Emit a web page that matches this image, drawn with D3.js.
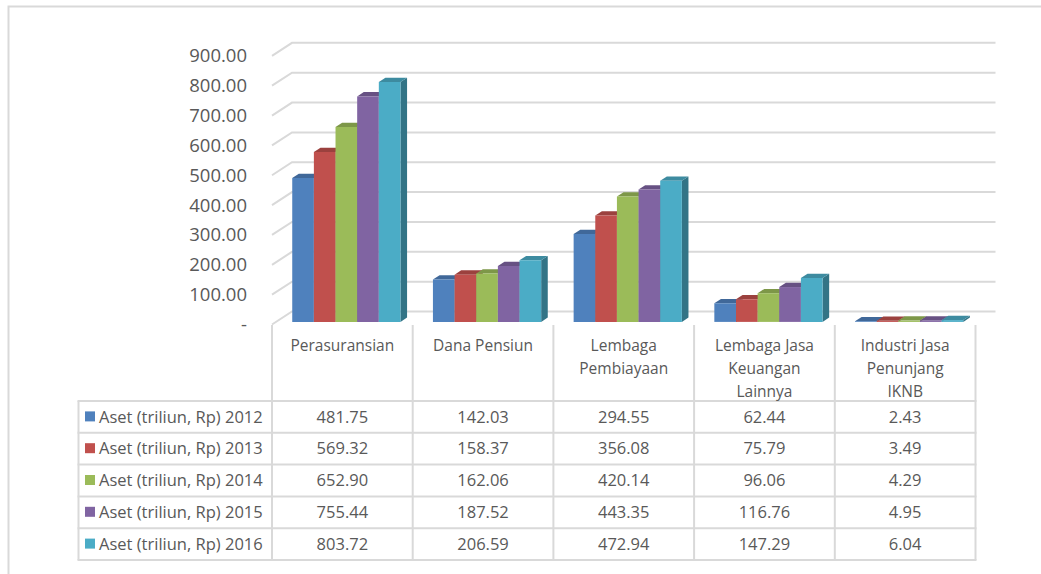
<!DOCTYPE html>
<html>
<head>
<meta charset="utf-8">
<script src="https://cdn.jsdelivr.net/npm/d3@7"></script>
<style>
  body { margin: 0; background: #fff; }
  text { font-family: "Open Sans", sans-serif; fill: #595959; }
</style>
</head>
<body>
<div id="chart"></div>
<script>
// categories (label lines as shown under the axis)
const categories = ["Perasuransian", "Dana Pensiun", "Lembaga Pembiayaan",
  "Lembaga Jasa Keuangan Lainnya", "Industri Jasa Penunjang IKNB"];
const categoryLines = [["Perasuransian"], ["Dana Pensiun"], ["Lembaga", "Pembiayaan"],
  ["Lembaga Jasa", "Keuangan", "Lainnya"], ["Industri Jasa", "Penunjang", "IKNB"]];

const series = ["Aset (triliun, Rp) 2012", "Aset (triliun, Rp) 2013", "Aset (triliun, Rp) 2014",
  "Aset (triliun, Rp) 2015", "Aset (triliun, Rp) 2016"];
const colors = ["#4F81BD", "#C0504D", "#9BBB59", "#8064A2", "#4BACC6"];

const aset2012 = [481.75, 142.03, 294.55, 62.44, 2.43];
const aset2013 = [569.32, 158.37, 356.08, 75.79, 3.49];
const aset2014 = [652.90, 162.06, 420.14, 96.06, 4.29];
const aset2015 = [755.44, 187.52, 443.35, 116.76, 4.95];
const aset2016 = [803.72, 206.59, 472.94, 147.29, 6.04];
const values = [aset2012, aset2013, aset2014, aset2015, aset2016];

const yTicks = [0, 100, 200, 300, 400, 500, 600, 700, 800, 900];
const yTickLabels = ["-", "100.00", "200.00", "300.00", "400.00", "500.00", "600.00", "700.00", "800.00", "900.00"];

const W = 1041, H = 574;
const DX = 20, DY = -13;      // depth of the 3d box
const Z0 = 0.2, Z1 = 0.53;   // depth range of the bars
const grid = "#d9d9d9";

const svg = d3.select('#chart')
  .append('svg')
  .attr('width', W)
  .attr('height', H);

// outer chart border
svg.append('path')
  .attr('d', 'M8.5,574 V6.5 H1041')
  .attr('fill', 'none')
  .attr('stroke', grid)
  .attr('stroke-width', 2);

const x0 = d3.scaleBand().domain(categories).range([272, 975.5]);
const x1 = d3.scaleBand().domain(series).range([0, x0.bandwidth()])
  .paddingInner(0).paddingOuter(0.75);
const y = d3.scaleLinear().domain([0, 900]).range([324.5, 324.5 - 9 * 29.85]);

const proj = (x, v, z) => [x + z * DX, y(v) + z * DY];

// gridlines: left wall diagonal + back wall line
const gl = svg.append('g')
  .attr('fill', 'none')
  .attr('stroke', grid)
  .attr('stroke-width', 2);

gl.selectAll('path')
  .data(yTicks)
  .enter()
  .append('path')
  .attr('d', v => {
    const a = proj(272, v, 0), b = proj(272, v, 1), c = proj(975.5, v, 1);
    return `M${a}L${b}L${c}`;
  });

// y labels
svg.append('g')
  .selectAll('text')
  .data(yTicks)
  .enter()
  .append('text')
  .attr('x', 247)
  .attr('y', d => y(d))
  .attr('dy', '0.35em')
  .attr('text-anchor', 'end')
  .style('font-size', '18.5px')
  .text((d, i) => yTickLabels[i]);

// bars
const bars = [];
categories.forEach((c, ci) => {
  series.forEach((s, si) => {
    bars.push({ c, s, si, v: values[si][ci] });
  });
});

const poly = pts => 'M' + pts.map(p => p.join(',')).join('L') + 'Z';

const barG = svg.append('g')
  .selectAll('g')
  .data(bars)
  .enter()
  .append('g');

barG.append('path')
  .attr('fill', d => d3.color(colors[d.si]).darker(1.1))
  .attr('d', d => {
    const xr = x0(d.c) + x1(d.s) + x1.bandwidth();
    return poly([proj(xr, d.v, Z0), proj(xr, 0, Z0), proj(xr, 0, Z1), proj(xr, d.v, Z1)]);
  });

barG.append('path')
  .attr('fill', d => d3.color(colors[d.si]).darker(0.6))
  .attr('d', d => {
    const xl = x0(d.c) + x1(d.s), xr = xl + x1.bandwidth();
    return poly([proj(xl, d.v, Z0), proj(xr, d.v, Z0), proj(xr, d.v, Z1), proj(xl, d.v, Z1)]);
  });

barG.append('path')
  .attr('fill', d => colors[d.si])
  .attr('d', d => {
    const xl = x0(d.c) + x1(d.s), xr = xl + x1.bandwidth();
    return poly([proj(xl, d.v, Z0), proj(xr, d.v, Z0), proj(xr, 0, Z0), proj(xl, 0, Z0)]);
  });

// data table
const rowTop = 401, rowH = 31.8, legendLeft = 78.5;
const rowsY = d3.range(series.length + 1).map(i => rowTop + i * rowH);
const tableRight = x0.range()[1];

const tbl = svg.append('g')
  .attr('stroke', grid)
  .attr('stroke-width', 2);

// vertical lines of category columns
tbl.selectAll('line.v')
  .data(categories.map(c => x0(c)).concat([tableRight]))
  .enter()
  .append('line')
  .attr('x1', d => d).attr('x2', d => d)
  .attr('y1', y(0) + 0.5).attr('y2', rowsY[rowsY.length - 1]);

tbl.append('line')
  .attr('x1', legendLeft).attr('x2', legendLeft)
  .attr('y1', rowsY[0]).attr('y2', rowsY[rowsY.length - 1]);

tbl.selectAll('line.h')
  .data(rowsY)
  .enter()
  .append('line')
  .attr('x1', legendLeft - 1).attr('x2', tableRight + 1)
  .attr('y1', d => d).attr('y2', d => d);

// category header labels
const hdr = svg.append('g')
  .selectAll('text')
  .data(categories)
  .enter()
  .append('text')
  .attr('text-anchor', 'middle')
  .style('font-size', '15.5px')
  .attr('x', d => x0(d) + x0.bandwidth() / 2)
  .attr('y', 346);

hdr.selectAll('tspan')
  .data((d, i) => categoryLines[i])
  .enter()
  .append('tspan')
  .attr('x', function () { return this.parentNode.getAttribute('x'); })
  .attr('y', (d, i) => 346 + i * 23)
  .attr('dy', '0.35em')
  .text(d => d);

// legend column
const leg = svg.append('g')
  .selectAll('g')
  .data(series)
  .enter()
  .append('g')
  .attr('transform', (d, i) => `translate(0,${rowsY[i] + rowH / 2})`);

leg.append('rect')
  .attr('x', 85).attr('y', -5.5)
  .attr('width', 10).attr('height', 10)
  .attr('fill', (d, i) => colors[i]);

leg.append('text')
  .attr('x', 99)
  .attr('dy', '0.35em')
  .style('font-size', '16.5px')
  .text(d => d);

// table values
const cells = [];
series.forEach((s, si) => categories.forEach((c, ci) => cells.push({ si, c, v: values[si][ci] })));

svg.append('g')
  .selectAll('text')
  .data(cells)
  .enter()
  .append('text')
  .attr('x', d => x0(d.c) + x0.bandwidth() / 2)
  .attr('y', d => rowsY[d.si] + rowH / 2)
  .attr('dy', '0.35em')
  .attr('text-anchor', 'middle')
  .style('font-size', '16.5px')
  .text(d => d3.format('.2f')(d.v));
</script>
</body>
</html>
